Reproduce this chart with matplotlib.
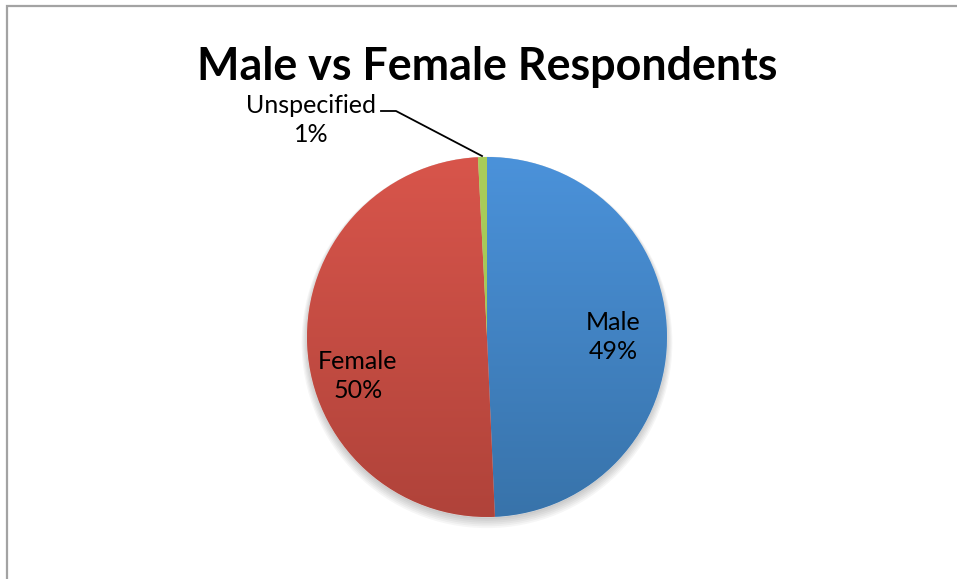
import numpy as np
import matplotlib
matplotlib.use("Agg")
import matplotlib.pyplot as plt
from matplotlib.colors import LinearSegmentedColormap
from matplotlib.patches import Rectangle, Circle

plt.rcParams["font.family"] = ["Lato", "DejaVu Sans"]

categories = ["Male", "Female", "Unspecified"]
shares = [49.3, 49.9, 0.8]
top_colors = ["#4b92da", "#d8554b", "#aacd5a"]
bottom_colors = ["#3873aa", "#b0433a", "#9fc250"]
title = "Male vs Female Respondents"

W, H = 957, 579
fig = plt.figure(figsize=(W / 100, H / 100), dpi=100)

# chart frame (only left/top edges visible in the crop)
fig.add_artist(Rectangle((7.5 / W, -0.2), 1.5, 1.2 - 5.5 / H,
                         transform=fig.transFigure, fill=False,
                         edgecolor="#a3a3a3", lw=1.6))

cx, cy, r = 487, 337, 180
ax = fig.add_axes([(cx - r) / W, 1 - (cy + r) / H, 2 * r / W, 2 * r / H])

# soft shadow under the pie
for k in range(6):
    ax.add_patch(Circle((0, -0.012 - k * 0.004), 1.0 + k * 0.006,
                        color="black", alpha=0.035, zorder=0, lw=0,
                        clip_on=False))

wedges, _ = ax.pie(shares, colors=top_colors, startangle=90,
                   counterclock=False, radius=1,
                   wedgeprops=dict(edgecolor="#e8e8e8", linewidth=0.4))

grad = np.linspace(1, 0, 256).reshape(-1, 1)
for w, c_top, c_bot in zip(wedges, top_colors, bottom_colors):
    cmap = LinearSegmentedColormap.from_list("g", [c_bot, c_top])
    im = ax.imshow(grad, cmap=cmap, extent=[-1, 1, -1, 1], origin="upper",
                   aspect="auto", zorder=w.get_zorder() + 0.1)
    im.set_clip_path(w)

ax.set_xlim(-1, 1)
ax.set_ylim(-1, 1)
ax.set_aspect("equal")
ax.axis("off")

labels = [f"{c}\n{round(s)}%" for c, s in zip(categories, shares)]
lab_font = dict(fontsize=18, color="black", ha="center", va="center",
                linespacing=1.3, zorder=5)
ax.text(126 / r, 0.0, labels[0], **lab_font)
ax.text(-129 / r, -39 / r, labels[1], **lab_font)

# outside label for the tiny slice, with leader line
ax.text((311 - cx) / r, (cy - 120) / r, labels[2], clip_on=False, **lab_font)
ax.plot([(381 - cx) / r, (396 - cx) / r, (482 - cx) / r],
        [(cy - 111) / r, (cy - 111) / r, (cy - 156) / r],
        color="black", lw=1.3, clip_on=False, zorder=5)

fig.text(cx / W, 1 - 80 / H, title, ha="center", va="baseline",
         fontsize=32.3, fontweight="bold")

fig.savefig("out.png", dpi=100)
